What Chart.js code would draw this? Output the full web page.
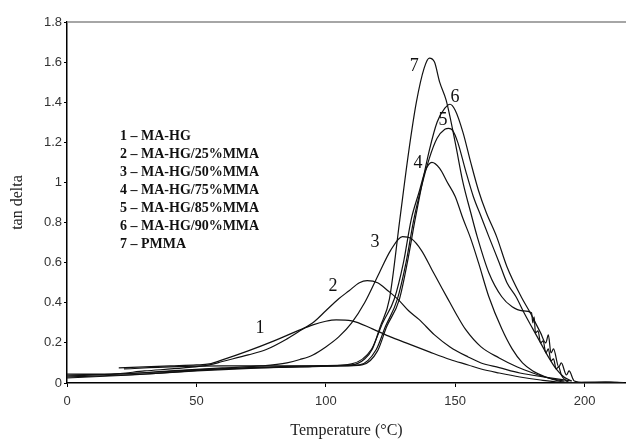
<!DOCTYPE html>
<html>
<head>
<meta charset="utf-8">
<script src="https://cdn.jsdelivr.net/npm/chart.js@4.4.1/dist/chart.umd.min.js"></script>
<style>
  html, body { margin: 0; padding: 0; background: #fff; }
  #wrap { width: 626px; height: 440px; }
</style>
</head>
<body>
<div id="wrap"><canvas id="myChart"></canvas></div>
<script>
// temperatures (°C) and tan delta values per sample
const t1 = [20, 30, 40, 50, 55, 60, 70, 80, 90, 95, 100, 104, 110, 118, 125, 131, 140, 148, 155, 160, 167, 175, 183, 190, 200];
const d1 = [0.075, 0.08, 0.085, 0.09, 0.095, 0.115, 0.16, 0.21, 0.265, 0.29, 0.308, 0.315, 0.31, 0.27, 0.23, 0.2, 0.155, 0.117, 0.09, 0.07, 0.05, 0.03, 0.015, 0.005, 0.002];

const t2 = [0, 17, 30, 45, 55, 60, 70, 77, 85, 90, 95.6, 100, 105, 109, 113, 116, 120, 124, 128, 132, 136, 142, 148, 155, 160, 167, 175, 186, 195];
const d2 = [0.045, 0.045, 0.06, 0.075, 0.09, 0.107, 0.14, 0.167, 0.22, 0.26, 0.307, 0.36, 0.42, 0.46, 0.5, 0.51, 0.5, 0.46, 0.416, 0.36, 0.317, 0.24, 0.18, 0.13, 0.1, 0.077, 0.05, 0.027, 0.01];

const t3 = [0, 20, 40, 60, 75, 85, 90, 95, 100, 105, 110, 115, 120.7, 125, 129.6, 133, 137, 141, 145, 148, 151, 154, 160, 167, 174, 180, 186, 192];
const d3 = [0.035, 0.045, 0.06, 0.075, 0.085, 0.1, 0.117, 0.14, 0.18, 0.23, 0.3, 0.4, 0.55, 0.66, 0.73, 0.72, 0.66, 0.565, 0.47, 0.4, 0.33, 0.267, 0.18, 0.125, 0.08, 0.05, 0.025, 0.01];

const t4 = [0, 25, 50, 75, 100, 110, 117.6, 122, 126.5, 130, 133, 136, 138.5, 141, 144, 147, 150, 153, 156, 159, 163, 168, 172, 176, 180, 185, 190, 194];
const d4 = [0.025, 0.04, 0.06, 0.075, 0.085, 0.095, 0.167, 0.3, 0.42, 0.6, 0.815, 0.95, 1.06, 1.1, 1.07, 1.0, 0.93, 0.82, 0.72, 0.6, 0.43, 0.27, 0.17, 0.1, 0.06, 0.03, 0.01, 0.0];

const t5 = [0, 20, 50, 80, 100, 113, 119.5, 123, 127.6, 131, 134, 137, 140, 143, 146, 147.5, 149, 151, 154, 157, 160, 163, 167, 170, 173.5, 177, 180, 183, 186, 189, 192, 195];
const d5 = [0.04, 0.045, 0.065, 0.08, 0.085, 0.09, 0.167, 0.28, 0.416, 0.6, 0.815, 0.98, 1.12, 1.22, 1.265, 1.27, 1.26, 1.2, 1.06, 0.93, 0.83, 0.73, 0.6, 0.5, 0.43, 0.34, 0.27, 0.2, 0.13, 0.07, 0.03, 0.01];

const t6 = [0, 30, 60, 90, 105, 114, 120, 123.5, 128.4, 131.5, 134.5, 137, 140, 143, 146, 148, 150, 153, 156, 159, 162, 166, 170, 175.5, 179, 183, 185, 186, 187, 188, 190, 191, 193, 194, 196, 200, 208, 215];
const d6 = [0.03, 0.045, 0.07, 0.08, 0.085, 0.09, 0.16, 0.28, 0.416, 0.6, 0.815, 0.98, 1.16, 1.3, 1.37, 1.39, 1.36, 1.25, 1.1, 0.96, 0.85, 0.73, 0.58, 0.43, 0.35, 0.25, 0.2, 0.24, 0.15, 0.17, 0.08, 0.1, 0.04, 0.06, 0.01, 0.003, 0.004, 0.002];

const t7 = [22, 40, 60, 90, 105, 110, 115, 118, 121, 124.6, 128.6, 132, 135, 138, 140, 142, 144, 146.5, 150, 153, 156, 158.5, 163, 168, 172, 176, 179.5, 180, 180.5, 181, 182, 183, 184, 185, 186, 187, 188, 189, 190, 191, 193, 195, 200, 210, 215];
const d7 = [0.07, 0.08, 0.085, 0.085, 0.088, 0.09, 0.12, 0.17, 0.28, 0.42, 0.815, 1.15, 1.4, 1.57, 1.62, 1.6, 1.5, 1.41, 1.2, 1.0, 0.85, 0.73, 0.55, 0.43, 0.38, 0.36, 0.35, 0.3, 0.33, 0.25, 0.26, 0.2, 0.21, 0.15, 0.17, 0.11, 0.12, 0.07, 0.08, 0.04, 0.01, 0.0, 0.003, 0.004, 0.001];

const legendLines = ["1 – MA-HG", "2 – MA-HG/25%MMA", "3 – MA-HG/50%MMA", "4 – MA-HG/75%MMA", "5 – MA-HG/85%MMA", "6 – MA-HG/90%MMA", "7 – PMMA"];

// curve numbers written next to the peaks (data coords)
const tagText = ["1", "2", "3", "4", "5", "6", "7"];
const tagX = [74.6, 102.8, 119, 135.6, 145.3, 149.9, 134.2];
const tagY = [0.274, 0.48, 0.7, 1.097, 1.31, 1.426, 1.58];

const toPoints = function (xs, ys) {
  return xs.map((x, i) => ({ x: x, y: ys[i] }));
};

const series = [[t1, d1], [t2, d2], [t3, d3], [t4, d4], [t5, d5], [t6, d6], [t7, d7]];
const datasets = series.map((s, i) => ({
  label: legendLines[i],
  data: toPoints(s[0], s[1]),
  borderColor: "#111",
  borderWidth: 1.2,
  pointRadius: 0,
  cubicInterpolationMode: "monotone",
  fill: false,
}));

const extras = {
  id: "extras",
  afterDraw(chart) {
    const ctx = chart.ctx;
    const area = chart.chartArea;
    const xs = chart.scales.x;
    const ys = chart.scales.y;
    ctx.save();
    // top frame line
    ctx.strokeStyle = "#888";
    ctx.lineWidth = 1.5;
    ctx.beginPath();
    ctx.moveTo(area.left, area.top);
    ctx.lineTo(area.right, area.top);
    ctx.stroke();
    // legend text block
    ctx.fillStyle = "#111";
    ctx.font = "bold 14px 'Liberation Serif'";
    ctx.textAlign = "left";
    ctx.textBaseline = "middle";
    legendLines.forEach((txt, i) => {
      ctx.fillText(txt, 120, 136 + i * 18.1);
    });
    // curve numbers
    ctx.font = "18px 'Liberation Serif'";
    ctx.textAlign = "center";
    tagText.forEach((txt, i) => {
      ctx.fillText(txt, xs.getPixelForValue(tagX[i]), ys.getPixelForValue(tagY[i]));
    });
    ctx.restore();
  },
};

new Chart(document.getElementById("myChart"), {
  type: "line",
  data: { datasets: datasets },
  plugins: [extras],
  options: {
    responsive: true,
    maintainAspectRatio: false,
    animation: false,
    layout: { padding: { top: 22, right: 0, left: 0, bottom: 0 } },
    plugins: {
      legend: { display: false },
      tooltip: { enabled: false },
    },
    scales: {
      x: {
        type: "linear",
        min: 0,
        max: 216,
        afterBuildTicks: (s) => { s.ticks = s.ticks.filter((t) => t.value % 50 === 0); },
        afterFit: (s) => { s.height = 57; },
        ticks: {
          stepSize: 50,
          color: "#333",
          padding: 7,
          maxRotation: 0,
          font: { family: "'Liberation Sans'", size: 13 },
        },
        grid: { display: true, drawOnChartArea: false, tickLength: 4, color: "#000" },
        border: { display: true, color: "#000", width: 1.5 },
        title: {
          display: true,
          text: "Temperature (°C)",
          color: "#222",
          padding: 0,
          font: { family: "'Liberation Serif'", size: 16 },
        },
      },
      y: {
        min: 0,
        max: 1.8,
        afterFit: (s) => { s.width = 67; },
        ticks: {
          stepSize: 0.2,
          color: "#333",
          padding: 2,
          font: { family: "'Liberation Sans'", size: 13 },
          callback: (v) => String(+v.toFixed(1)),
        },
        grid: { display: true, drawOnChartArea: false, tickLength: 3, color: "#000" },
        border: { display: true, color: "#000", width: 1.5 },
        title: {
          display: true,
          text: "tan delta",
          color: "#222",
          padding: { top: 8, bottom: 8 },
          font: { family: "'Liberation Serif'", size: 16 },
        },
      },
    },
  },
});
</script>
</body>
</html>
